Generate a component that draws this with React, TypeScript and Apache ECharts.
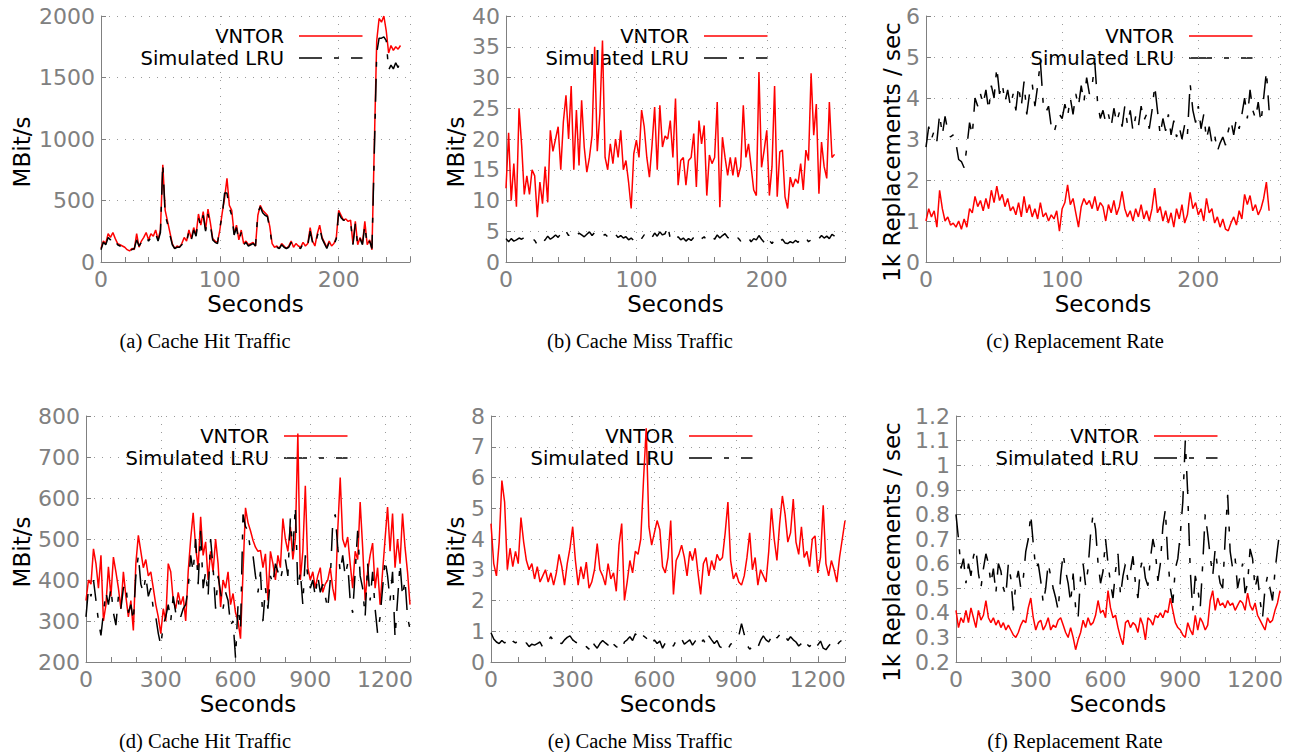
import React, { useEffect, useRef } from "react";
import * as echarts from "echarts";

// ---------------- DATA ----------------
// Top row: one sample every 2 s (0..252 s); bottom row: one sample every 10 s (0..1300 s)
const STEP_TOP = 2;
const STEP_BOTTOM = 10;

const hitVntorA = [
  110, 170, 150, 230, 200, 240, 190, 150, 140, 130,
  120, 100, 90, 110, 100, 230, 120, 170, 200, 240,
  180, 230, 210, 260, 180, 260, 790, 420, 330, 240,
  150, 110, 130, 120, 150, 200, 170, 260, 190, 280,
  220, 390, 300, 410, 260, 430, 320, 190, 170, 160,
  260, 400, 520, 680, 460, 420, 230, 300, 180, 260,
  150, 170, 140, 150, 160, 130, 380, 460, 420, 400,
  380, 290, 150, 120, 130, 110, 150, 130, 110, 130,
  170, 120, 150, 130, 120, 160, 130, 150, 280, 170,
  130, 230, 300, 200, 160, 120, 170, 130, 150, 200,
  420, 380, 340, 350, 330, 340, 150, 330, 140, 200,
  150, 330, 140, 180, 100, 960, 1800, 1980, 1950, 2000,
  1880, 1700, 1760, 1720, 1750, 1730, 1760,
];
const hitLruA = [
  100, 160, 140, 200, 180, 210, 170, 140, 130, 120,
  110, 90, 90, 100, 110, 180, 130, 160, 190, 210,
  170, 200, 190, 230, 170, 240, 800, 380, 310, 220,
  140, 110, 120, 120, 140, 180, 160, 250, 180, 260,
  210, 360, 290, 380, 250, 390, 300, 180, 160, 150,
  280, 380, 560, 560, 440, 380, 220, 280, 170, 240,
  140, 160, 130, 140, 150, 130, 400, 450, 400, 380,
  370, 270, 140, 110, 120, 110, 140, 120, 110, 120,
  160, 120, 140, 120, 110, 150, 120, 140, 250, 160,
  130, 210, 280, 190, 150, 110, 160, 120, 140, 190,
  400, 360, 340, 340, 320, 330, 140, 310, 130, 190,
  140, 300, 130, 170, 110, 900, 1700, 1820, 1820, 1830,
  1800, 1560, 1600, 1570, 1620, 1580, 1650,
];
const missVntorB = [
  12, 21, 10, 16, 9, 25, 19, 11, 14, 11,
  15, 14, 7.3, 13, 9.5, 15.5, 9.7, 21.4, 18, 20,
  22, 15, 22.8, 27.1, 20, 28.6, 15, 24.7, 15.7, 26.3,
  18.7, 14.6, 17, 20.6, 35, 18, 24.1, 36, 17, 15,
  19.2, 16, 20, 17, 21.4, 15, 16.5, 13, 8.7, 17.6,
  19.8, 17, 24.7, 22, 17, 13.8, 19, 25.2, 15, 25.5,
  18.7, 20.5, 20, 23, 17, 26.6, 12.5, 16.5, 17, 12.5,
  16.5, 17, 20.9, 12.2, 23, 19.2, 22.2, 10.8, 17.4, 16,
  17, 26, 8.9, 20.3, 17, 14.1, 17, 14.1, 17, 13.8,
  15.5, 25.5, 17, 19.2, 15.5, 11.7, 10.8, 30.9, 15.4, 18.2,
  21.4, 10.8, 15.5, 28.6, 10.6, 17.9, 18.2, 10.6, 8.7, 13.8,
  12.2, 13.5, 12.8, 16, 11.7, 18.2, 16.5, 30.7, 20.6, 25.7,
  11.1, 19.5, 15.5, 13.6, 26, 17, 17.5,
];
const missLruB = [
  3.8, 3.3, 3.8, 3.4, 3.6, 3.9, 3.7, 4.0, 3.6, 3.8,
  3.9, 3.5, 2.8, 2.5, 3.2, 3.6, 4.2, 3.7, 4.0, 4.4,
  4.0, 4.6, 4.2, 5.0, 4.3, 4.8, 4.6, 4.2, 4.7, 4.4,
  4.1, 4.5, 4.9, 4.3, 4.8, 4.4, 4.6, 4.2, 4.5, 4.1,
  4.6, 4.2, 4.5, 4.0, 4.3, 3.9, 4.1, 3.6, 3.9, 3.5,
  4.0, 4.3, 3.8, 4.4, 4.1, 4.6, 4.0, 4.7, 4.2, 4.9,
  4.4, 4.6, 5.9, 3.8, 4.2, 3.7, 4.1, 3.6, 3.9, 3.4,
  3.8, 3.5, 4.0, 3.6, 4.2, 3.8, 4.1, 3.5, 3.9, 4.2,
  3.7, 4.4, 3.9, 4.3, 4.6, 4.0, 3.7, 4.1, 3.6, 3.9,
  3.4, 3.8, 3.5, 3.9, 3.3, 3.8, 3.6, 4.3, 3.7, 3.2,
  4.1, 3.5, 3.0, 3.6, 3.9, 3.3, 3.7, 3.1, 3.0, 3.3,
  3.1, 3.5, 3.2, 3.7, 3.4, 3.9, 3.3, 3.6, 4.0, 3.5,
  3.8, 4.3, 3.9, 4.2, 3.8, 4.5, 4.2,
];
const replVntorC = [
  1.0, 1.3, 1.1, 1.25, 0.85, 1.75, 1.3, 1.0, 1.1, 0.9,
  0.95, 0.85, 1.0, 0.8, 1.05, 0.85, 1.3, 1.2, 1.6, 1.35,
  1.5, 1.25, 1.55, 1.3, 1.75, 1.45, 1.85, 1.5, 1.65, 1.35,
  1.55, 1.25, 1.35, 1.15, 1.45, 1.1, 1.6, 1.2, 1.4, 1.1,
  1.3, 1.05, 1.45, 1.1, 1.2, 1.0, 1.15, 1.05, 1.25, 0.75,
  1.3, 1.45, 1.88, 1.4, 1.55, 1.2, 0.85, 1.35, 1.55, 1.4,
  1.5, 1.3, 1.6, 1.25, 1.45, 1.35, 1.0, 1.4, 1.2, 1.5,
  1.15, 1.35, 1.72, 1.3, 1.1, 1.25, 1.0, 1.3, 1.1, 1.4,
  1.05, 1.25, 1.0, 1.3, 1.8, 1.2, 1.35, 1.0, 1.25, 0.95,
  1.2, 0.85, 1.3, 1.05, 1.4, 0.95, 1.15, 1.7, 1.3, 1.45,
  1.15, 1.3, 1.0, 1.55, 1.2, 1.3, 0.95, 1.1, 0.85, 1.05,
  0.8, 0.76, 0.95, 1.1, 0.9, 1.25, 1.05, 1.65, 1.4, 1.62,
  1.25, 1.4, 1.15, 1.3, 1.55, 1.95, 1.25,
];
const replLruC = [
  2.8, 3.3, 3.0, 3.2, 2.95, 3.6, 3.1, 3.55, 3.2, 3.05,
  3.1, 2.9, 2.5, 2.45, 2.3, 2.8, 3.4, 3.1, 4.0, 3.8,
  4.1, 3.85, 4.2, 3.7, 4.3, 4.0, 4.75, 4.1, 4.35, 3.9,
  4.2, 3.8, 4.1, 3.7, 4.3, 3.8, 4.4, 3.6, 4.1, 4.35,
  3.8, 4.3, 4.9, 3.9, 3.65, 3.8, 3.3, 3.15, 3.4, 3.6,
  3.5, 3.85, 3.55, 4.0, 3.6, 4.1, 3.8, 4.3, 3.9, 4.5,
  4.1, 4.3, 4.85, 3.9, 3.5, 3.7, 3.4, 3.6, 3.3, 3.75,
  3.4, 3.65, 3.3, 3.8, 3.35, 3.7, 3.2, 3.55, 3.3, 3.8,
  3.45, 3.6, 3.25, 3.7, 4.3, 3.7, 3.1, 3.5, 3.2, 3.6,
  3.1, 3.45, 3.05, 3.3, 3.0, 3.35, 3.1, 4.35, 3.7, 3.4,
  3.8, 3.25, 3.6, 3.0, 3.3, 2.9, 3.1, 2.7, 2.9, 3.05,
  2.85, 3.2, 3.45, 3.1, 3.5, 3.25, 3.6, 4.0, 3.5, 4.2,
  3.7, 3.5, 3.9, 3.4, 4.0, 4.65, 3.7,
];
const hitVntorD = [
  350, 400, 390, 476, 440, 380, 460, 300, 340, 432,
  360, 456, 420, 380, 330, 420, 360, 310, 350, 277,
  440, 509, 470, 430, 450, 410, 420, 380, 340, 310,
  269, 330, 300, 440, 420, 350, 330, 370, 340, 360,
  300, 420, 500, 564, 480, 430, 554, 460, 493, 400,
  470, 420, 500, 440, 334, 400, 380, 420, 340, 367,
  320, 300, 257, 420, 576, 540, 520, 497, 480, 470,
  472, 430, 464, 350, 470, 440, 400, 460, 430, 550,
  500, 470, 530, 450, 500, 757, 400, 470, 630, 430,
  400, 420, 380, 410, 430, 370, 390, 400, 430, 380,
  350, 520, 650, 500, 480, 505, 440, 380, 470, 450,
  590, 480, 350, 420, 460, 490, 380, 430, 340, 420,
  500, 578, 470, 562, 430, 500, 440, 562, 480, 420,
  340,
];
const hitLruD = [
  310, 380, 360, 400, 350, 300, 265, 320, 370, 340,
  380, 320, 290, 360, 330, 380, 390, 320, 340, 300,
  410, 460, 390, 370, 410, 360, 380, 330, 310, 270,
  240, 290, 310, 340, 300, 360, 320, 350, 310, 330,
  340, 380, 460, 420, 500, 390, 520, 380, 420, 360,
  500, 430, 330, 410, 370, 330, 370, 350, 290, 300,
  210, 340, 280, 560, 530, 520, 470, 460, 410, 370,
  420, 300, 380, 330, 410, 390, 440, 420, 400, 430,
  450, 410, 550, 470, 580, 380, 420, 340, 460, 410,
  380, 400, 360, 410, 370, 390, 360, 330, 400, 540,
  560, 480, 420, 460, 410, 440, 350, 320, 420, 520,
  410, 380, 310, 440, 350, 420, 330, 270, 310, 380,
  450, 410, 350, 420, 260, 350, 440, 360, 400, 310,
  280,
];
const missVntorE = [
  4.5, 3.2, 2.8, 3.9, 5.9, 5.2, 3.0, 3.7, 3.1, 3.6,
  3.2, 4.7, 3.9, 3.3, 3.0, 3.2, 2.7, 3.1, 2.6, 2.8,
  3.0, 2.6, 2.9, 2.5, 2.9, 3.5, 3.1, 2.5, 3.2, 3.7,
  4.4, 3.3, 2.5, 3.1, 2.7, 3.25, 2.4, 2.6, 3.0, 3.85,
  3.0, 2.8, 2.5, 3.2, 2.7, 2.9, 2.3, 3.8, 4.5, 2.0,
  2.6, 3.3, 2.9, 3.6, 3.5, 4.0, 5.9, 7.6, 4.4, 3.8,
  4.2, 4.6, 4.3, 3.1, 2.9, 3.4, 4.6, 2.2, 3.3, 3.5,
  3.8, 3.4, 2.8, 3.6, 3.3, 3.7, 2.9, 2.2, 3.2, 3.4,
  2.8, 3.3, 3.0, 3.5, 3.3, 3.4, 4.2, 5.2, 3.3, 2.7,
  2.9, 2.6, 2.5, 2.8, 3.4, 4.2, 3.0, 3.4, 2.5, 3.0,
  2.8, 2.6, 3.6, 5.0, 4.0, 3.3, 4.5, 5.4, 4.8, 3.9,
  4.2, 5.3, 3.9, 3.5, 4.4, 3.4, 3.6, 3.1, 4.0, 4.1,
  2.9, 3.4, 5.1, 3.2, 2.8, 3.3, 3.0, 2.6, 3.4, 4.0,
  4.6,
];
const missLruE = [
  0.95, 0.75, 0.65, 0.6, 0.7, 0.62, 0.7, 0.82, 0.68, 0.62,
  0.7, 0.6, 0.55, 0.62, 0.5, 0.58, 0.55, 0.6, 0.65, 0.48,
  0.62, 0.7, 0.82, 0.68, 0.55, 0.62, 0.6, 0.72, 0.8, 0.85,
  0.72, 0.65, 0.6, 0.55, 0.62, 0.5, 0.42, 0.7, 0.55, 0.45,
  0.6, 0.7, 0.62, 0.55, 0.75, 0.58, 0.5, 0.45, 0.38, 0.65,
  0.72, 0.82, 0.7, 0.92, 0.8, 0.95, 0.85, 0.78, 0.68, 0.55,
  0.72, 0.6, 0.68, 0.45, 0.62, 0.72, 0.58, 0.52, 0.7, 0.62,
  0.75, 0.58, 0.65, 0.72, 0.55, 0.68, 0.8, 0.62, 0.72, 0.55,
  0.85, 0.72, 0.6, 0.7, 0.5, 0.45, 0.55, 0.42, 0.58, 0.62,
  0.75, 0.85, 1.25, 0.9, 0.55, 0.42, 0.5, 0.38, 0.48, 0.7,
  0.85, 0.72, 0.65, 0.82, 0.95, 0.78, 0.88, 0.98, 0.85, 0.7,
  0.82, 0.72, 0.65, 0.52, 0.6, 0.75, 0.58, 0.5, 0.62, 0.45,
  0.55, 0.68, 0.45, 0.4, 0.52, 0.62, 0.48, 0.55, 0.65, 0.72,
  0.8,
];
const replVntorF = [
  0.41, 0.34, 0.38, 0.36, 0.41, 0.36, 0.42, 0.38, 0.34, 0.41,
  0.37, 0.39, 0.45, 0.38, 0.36, 0.38, 0.35, 0.37, 0.34, 0.36,
  0.33, 0.35, 0.33, 0.31, 0.3, 0.32, 0.35, 0.37, 0.36, 0.42,
  0.46, 0.38, 0.33, 0.36, 0.37, 0.33, 0.35, 0.38, 0.33, 0.35,
  0.34, 0.37, 0.38, 0.35, 0.32, 0.3, 0.34, 0.3, 0.25, 0.29,
  0.32, 0.37, 0.34, 0.38, 0.35, 0.36, 0.39, 0.45, 0.4, 0.41,
  0.38, 0.49, 0.42, 0.38, 0.39, 0.34, 0.3, 0.27, 0.36, 0.37,
  0.34, 0.36, 0.35, 0.32, 0.38, 0.35, 0.29, 0.38, 0.37, 0.35,
  0.39, 0.38, 0.4, 0.38, 0.41, 0.4, 0.46, 0.41, 0.36, 0.34,
  0.33, 0.31, 0.3, 0.36, 0.33, 0.31, 0.39, 0.33, 0.38, 0.36,
  0.33, 0.35, 0.45, 0.49, 0.41, 0.46, 0.43, 0.44, 0.42, 0.45,
  0.43, 0.44, 0.41, 0.43, 0.45, 0.44, 0.41, 0.48, 0.43, 0.41,
  0.44, 0.39, 0.37, 0.35, 0.33, 0.38, 0.36, 0.37, 0.41, 0.44,
  0.49,
];
const replLruF = [
  0.8, 0.7, 0.58, 0.62, 0.52, 0.6, 0.55, 0.63, 0.66, 0.56,
  0.5, 0.58, 0.64, 0.6, 0.52, 0.58, 0.48, 0.6, 0.57, 0.5,
  0.47, 0.6, 0.54, 0.41, 0.52, 0.57, 0.5, 0.54, 0.65, 0.7,
  0.8, 0.68, 0.58, 0.6, 0.53, 0.44, 0.5, 0.6, 0.55, 0.5,
  0.46, 0.41, 0.55, 0.64, 0.57, 0.52, 0.44, 0.56, 0.42, 0.38,
  0.55, 0.6, 0.51, 0.58, 0.72, 0.8, 0.74, 0.6, 0.52, 0.57,
  0.7, 0.6, 0.52, 0.46, 0.57, 0.64, 0.47, 0.55, 0.6, 0.53,
  0.57, 0.63, 0.52, 0.46, 0.58, 0.62, 0.54, 0.51, 0.62, 0.7,
  0.65, 0.53, 0.6, 0.75, 0.82, 0.62, 0.5, 0.44, 0.58, 0.62,
  0.72, 0.85, 1.1, 0.88, 0.57, 0.41, 0.55, 0.5, 0.42, 0.6,
  0.8, 0.72, 0.63, 0.55, 0.66, 0.58, 0.52, 0.5, 0.7, 0.88,
  0.65, 0.58, 0.62, 0.5, 0.55, 0.6, 0.48, 0.52, 0.66, 0.62,
  0.5, 0.55, 0.45, 0.38, 0.5, 0.55, 0.5, 0.45, 0.57, 0.66,
  0.74,
];

const seriesNames = ["VNTOR", "Simulated LRU"];
const xAxisTitle = "Seconds";
const captions = [
  "(a) Cache Hit Traffic",
  "(b) Cache Miss Traffic",
  "(c) Replacement Rate",
  "(d) Cache Hit Traffic",
  "(e) Cache Miss Traffic",
  "(f) Replacement Rate",
];
const yTitles = ["MBit/s", "MBit/s", "1k Replacements / sec", "MBit/s", "MBit/s", "1k Replacements / sec"];

// ---------------- LAYOUT ----------------
const SANS = '"DejaVu Sans", "Noto Sans", sans-serif';
const SERIF = '"Liberation Serif", "DejaVu Serif", serif';
const GREY = "#808080";
const DASH = [23, 12, 5, 12];

const panels = [
  { left: 101, top: 16, width: 309, yMin: 0, yMax: 2000, yInt: 500, xMax: 260, tick: 20, lab: 100, step: STEP_TOP, red: hitVntorA, black: hitLruA, nameX: 22, capX: 205, legX: 284 },
  { left: 506, top: 16, width: 339, yMin: 0, yMax: 40, yInt: 5, xMax: 260, tick: 20, lab: 100, step: STEP_TOP, red: missVntorB, black: missLruB, nameX: 456, capX: 640, legX: 689 },
  { left: 926, top: 16, width: 354, yMin: 0, yMax: 6, yInt: 1, xMax: 260, tick: 20, lab: 100, step: STEP_TOP, red: replVntorC, black: replLruC, nameX: 892, capX: 1075, legX: 1174 },
  { left: 86, top: 416, width: 324, yMin: 200, yMax: 800, yInt: 100, xMax: 1300, tick: 100, lab: 300, step: STEP_BOTTOM, red: hitVntorD, black: hitLruD, nameX: 22, capX: 205, legX: 269 },
  { left: 491, top: 416, width: 354, yMin: 0, yMax: 8, yInt: 1, xMax: 1300, tick: 100, lab: 300, step: STEP_BOTTOM, red: missVntorE, black: missLruE, nameX: 456, capX: 640, legX: 674 },
  { left: 956, top: 416, width: 324, yMin: 0.2, yMax: 1.2, yInt: 0.1, xMax: 1300, tick: 100, lab: 300, step: STEP_BOTTOM, red: replVntorF, black: replLruF, nameX: 892, capX: 1075, legX: 1139 },
];
const PLOT_H = 246;

const fmtNum = (v: number) => String(Math.round(v * 1000) / 1000);

function buildOption() {
  const grid: any[] = [];
  const xAxis: any[] = [];
  const yAxis: any[] = [];
  const series: any[] = [];
  const graphic: any[] = [];

  panels.forEach((p, i) => {
    grid.push({ left: p.left, top: p.top, width: p.width, height: PLOT_H, containLabel: false });
    // tick axis
    xAxis.push({
      type: "value", gridIndex: i, min: 0, max: p.xMax, interval: p.tick, position: "bottom",
      axisLine: { show: true, lineStyle: { color: GREY, width: 1 } },
      axisTick: { show: true, inside: true, length: 5, lineStyle: { color: GREY } },
      axisLabel: { show: false },
      splitLine: { show: false },
    });
    // label + grid axis
    xAxis.push({
      type: "value", gridIndex: i, min: 0, max: p.xMax, interval: p.lab, position: "bottom",
      axisLine: { show: false },
      axisTick: { show: false },
      axisLabel: {
        show: true, color: GREY, fontSize: 22, fontFamily: SANS, margin: 6,
        formatter: (v: number) => (Math.round(v) % p.lab === 0 ? fmtNum(v) : ""),
      },
      splitLine: { show: true, lineStyle: { color: "#9a9a9a", width: 1, type: [1, 7] } },
    });
    yAxis.push({
      type: "value", gridIndex: i, min: p.yMin, max: p.yMax, interval: p.yInt,
      axisLine: { show: true, lineStyle: { color: GREY, width: 1 } },
      axisTick: { show: true, inside: true, length: 5, lineStyle: { color: GREY } },
      axisLabel: { show: true, color: GREY, fontSize: 22, fontFamily: SANS, margin: 6, formatter: fmtNum },
      splitLine: { show: true, lineStyle: { color: "#9a9a9a", width: 1, type: [1, 7] } },
    });
    series.push({
      type: "line", name: seriesNames[0], xAxisIndex: 2 * i, yAxisIndex: i,
      data: p.red.map((v, k) => [k * p.step, v]),
      showSymbol: false, symbol: "none", z: 2,
      lineStyle: { color: "#ff0000", width: 1.5 },
    });
    series.push({
      type: "line", name: seriesNames[1], xAxisIndex: 2 * i, yAxisIndex: i,
      data: p.black.map((v, k) => [k * p.step, v]),
      showSymbol: false, symbol: "none", z: 3,
      lineStyle: { color: "#000000", width: 1.5, type: DASH },
    });

    const top = p.top;
    const midX = p.left + p.width / 2;
    // y axis title
    graphic.push({
      type: "text", x: p.nameX, y: top + 136, rotation: Math.PI / 2,
      style: { text: yTitles[i], font: `23px ${SANS}`, fill: "#000", align: "center", verticalAlign: "middle", textAlign: "center", textVerticalAlign: "middle" },
    });
    // x axis title
    graphic.push({
      type: "text", x: midX, y: top + 288,
      style: { text: xAxisTitle, font: `23px ${SANS}`, lineHeight: 22, fill: "#000", align: "center", verticalAlign: "middle", textAlign: "center", textVerticalAlign: "middle" },
    });
    // caption
    graphic.push({
      type: "text", x: p.capX, y: top + 325,
      style: { text: captions[i], font: `20.5px ${SERIF}`, fill: "#000", align: "center", verticalAlign: "middle", textAlign: "center", textVerticalAlign: "middle" },
    });
    // legend
    const ly1 = top + 20;
    const ly2 = top + 42;
    graphic.push({
      type: "text", x: p.legX, y: ly1,
      style: { text: seriesNames[0], font: `19.5px ${SANS}`, lineHeight: 18, fill: "#000", align: "right", verticalAlign: "middle", textAlign: "right", textVerticalAlign: "middle" },
    });
    graphic.push({
      type: "text", x: p.legX, y: ly2,
      style: { text: seriesNames[1], font: `19.5px ${SANS}`, lineHeight: 18, fill: "#000", align: "right", verticalAlign: "middle", textAlign: "right", textVerticalAlign: "middle" },
    });
    graphic.push({
      type: "line", shape: { x1: p.legX + 15, y1: ly1, x2: p.legX + 78.5, y2: ly1 },
      style: { stroke: "#ff0000", lineWidth: 1.5 },
    });
    graphic.push({
      type: "line", shape: { x1: p.legX + 15, y1: ly2, x2: p.legX + 78.5, y2: ly2 },
      style: { stroke: "#000000", lineWidth: 1.5, lineDash: DASH },
    });
  });

  return {
    animation: false,
    backgroundColor: "#ffffff",
    grid, xAxis, yAxis, series, graphic,
  };
}

export default function App() {
  const ref = useRef<HTMLDivElement>(null);
  useEffect(() => {
    if (!ref.current) return;
    const chart = echarts.init(ref.current, null, { renderer: "svg" });
    chart.setOption(buildOption() as any);
    return () => chart.dispose();
  }, []);
  return (
    <div
      ref={ref}
      style={{ position: "fixed", left: 0, top: 0, width: 1299, height: 752, background: "#fff" }}
    />
  );
}
